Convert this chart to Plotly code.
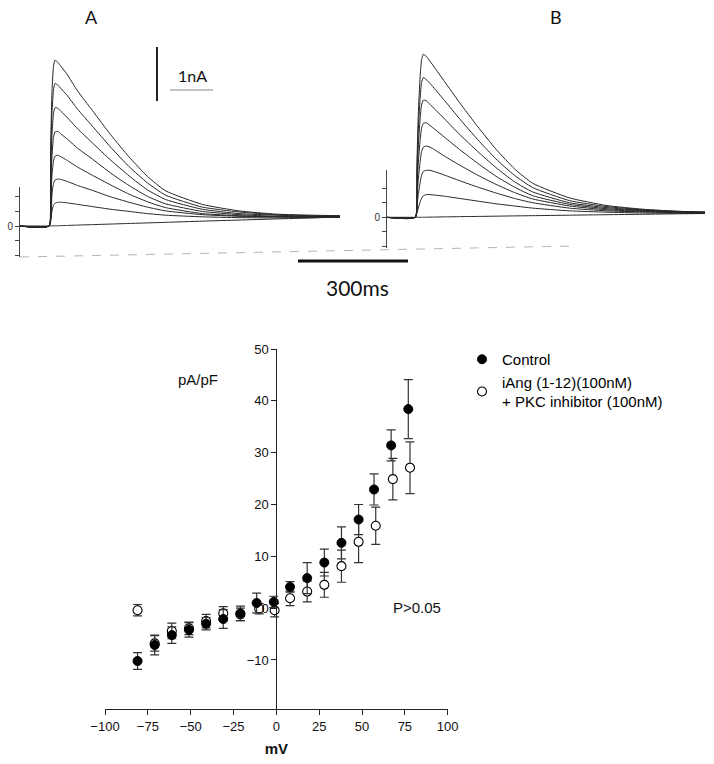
import plotly.graph_objects as go

W, H = 714, 764

# ---------------- data: current traces (time in ms, current in nA) ----------------
t_a = [0, 82, 86, 90, 94, 98, 106, 115, 130, 160, 200, 250, 300, 350, 400, 500, 600, 700, 800, 875]
a1 = [0, 0, 1.4, 2.5, 2.95, 3.07, 3.03, 2.95, 2.82, 2.50, 2.14, 1.69, 1.28, 0.92, 0.65, 0.40, 0.28, 0.22, 0.20, 0.19]
a2 = [0, 0, 1.1, 2.1, 2.52, 2.64, 2.61, 2.54, 2.43, 2.16, 1.85, 1.46, 1.10, 0.80, 0.57, 0.35, 0.26, 0.21, 0.19, 0.19]
a3 = [0, 0, 0.85, 1.7, 2.08, 2.19, 2.18, 2.12, 2.02, 1.80, 1.54, 1.22, 0.93, 0.67, 0.49, 0.31, 0.23, 0.20, 0.18, 0.18]
a4 = [0, 0, 0.65, 1.3, 1.64, 1.74, 1.75, 1.70, 1.62, 1.44, 1.24, 0.98, 0.75, 0.55, 0.41, 0.27, 0.21, 0.18, 0.17, 0.175]
a5 = [0, 0, 0.45, 0.95, 1.2, 1.29, 1.31, 1.28, 1.22, 1.09, 0.94, 0.76, 0.59, 0.45, 0.34, 0.23, 0.19, 0.17, 0.17, 0.17]
a6 = [0, 0, 0.28, 0.6, 0.78, 0.85, 0.87, 0.86, 0.83, 0.75, 0.66, 0.54, 0.44, 0.35, 0.28, 0.21, 0.18, 0.17, 0.165, 0.165]
a7 = [0, 0, 0.12, 0.28, 0.38, 0.42, 0.44, 0.44, 0.43, 0.40, 0.36, 0.31, 0.27, 0.23, 0.20, 0.17, 0.155, 0.15, 0.155, 0.16]
a8 = [0, 0, 0.001, 0.002, 0.003, 0.003, 0.005, 0.007, 0.01, 0.017, 0.025, 0.036, 0.047, 0.057, 0.068, 0.09, 0.11, 0.13, 0.15, 0.17]

t_b = [0, 80, 84, 88, 93, 97, 102, 110, 120, 135, 160, 200, 250, 300, 350, 400, 500, 600, 700, 800, 870]
b1 = [0, 0, 0.9, 1.9, 2.6, 2.92, 3.02, 2.98, 2.89, 2.75, 2.51, 2.13, 1.68, 1.26, 0.90, 0.63, 0.36, 0.22, 0.15, 0.11, 0.10]
b2 = [0, 0, 0.75, 1.6, 2.2, 2.5, 2.59, 2.55, 2.48, 2.36, 2.16, 1.83, 1.44, 1.08, 0.78, 0.55, 0.31, 0.20, 0.14, 0.11, 0.095]
b3 = [0, 0, 0.6, 1.3, 1.82, 2.08, 2.17, 2.16, 2.09, 1.99, 1.82, 1.54, 1.22, 0.92, 0.66, 0.47, 0.27, 0.18, 0.13, 0.10, 0.09]
b4 = [0, 0, 0.45, 1.0, 1.42, 1.65, 1.74, 1.75, 1.70, 1.62, 1.48, 1.26, 1.00, 0.76, 0.56, 0.40, 0.24, 0.16, 0.12, 0.095, 0.085]
b5 = [0, 0, 0.3, 0.7, 1.02, 1.22, 1.30, 1.32, 1.30, 1.24, 1.13, 0.97, 0.78, 0.61, 0.46, 0.34, 0.21, 0.14, 0.11, 0.09, 0.08]
b6 = [0, 0, 0.18, 0.42, 0.64, 0.78, 0.85, 0.87, 0.87, 0.84, 0.78, 0.68, 0.56, 0.45, 0.35, 0.27, 0.17, 0.12, 0.10, 0.085, 0.08]
b7 = [0, 0, 0.07, 0.17, 0.28, 0.35, 0.40, 0.42, 0.42, 0.41, 0.39, 0.35, 0.30, 0.25, 0.21, 0.17, 0.12, 0.095, 0.08, 0.075, 0.075]
b8 = [0, 0, 0, 0, 0, 0, 0.001, 0.002, 0.003, 0.005, 0.008, 0.012, 0.016, 0.021, 0.026, 0.03, 0.039, 0.048, 0.056, 0.065, 0.07]

small_tick_vals = [-0.54, -0.27, 0, 0.27, 0.54]
small_tick_text = ["", "", "0", "", ""]

scale_nA = 1.0      # vertical scale bar
scale_ms = 300      # horizontal scale bar

# ---------------- data: I-V relationship ----------------
v_control = [-81, -71, -61, -51, -41, -31, -21, -11.5, -1.5, 8, 18, 28, 38, 48, 57, 67, 77]
i_control = [-10.2, -7.1, -5.2, -4.2, -3.0, -2.1, -1.0, 1.0, 1.2, 4.1, 5.8, 8.8, 12.6, 17.1, 22.9, 31.4, 38.4]
e_control = [1.6, 1.9, 1.6, 1.4, 1.2, 1.8, 1.4, 1.9, 1.1, 1.0, 3.0, 2.6, 3.1, 2.9, 3.0, 3.0, 5.7]

v_pkc = [-81, -71, -61, -51, -41, -31, -21, -10, -1, 8, 18, 28, 38, 48, 58, 68, 78]
i_pkc = [-0.4, -6.8, -4.4, -3.9, -2.5, -1.0, -1.2, -0.1, -0.4, 1.9, 3.2, 4.5, 8.1, 12.8, 15.9, 24.9, 27.1]
e_pkc = [1.1, 1.5, 1.5, 1.2, 1.3, 1.3, 1.2, 1.0, 1.3, 1.4, 2.0, 2.4, 3.1, 4.0, 3.6, 4.0, 5.0]

iv_xticks = [-100, -75, -50, -25, 0, 25, 50, 75, 100]
iv_yticks = [-10, 0, 10, 20, 30, 40, 50]

# ---------------- layout geometry (pixels) ----------------
def px(p):
    return p / W

def py(p):
    return 1 - p / H

MS_PER_PX = 300 / 110
PX_PER_NA = 54.0

# panel A
A_x0, A_x1 = 19, 420
A_top, A_bot, A_zero = 40, 270, 226
# panel B
B_x0, B_x1 = 386, 712
B_top, B_bot, B_zero = 40, 262, 217.3
# IV
IV_x0, IV_x1 = 105, 447.7
IV_top, IV_bot = 349, 709
IV_ymax = 50
IV_ymin = IV_ymax - (IV_bot - IV_top) / 5.183

trace_color = "#262626"
fig = go.Figure()

for ys in [a8, a7, a6, a5, a4, a3, a2, a1]:
    fig.add_trace(go.Scatter(x=t_a, y=ys, mode="lines", xaxis="x", yaxis="y",
                             line=dict(color=trace_color, width=1, shape="spline", smoothing=0.5),
                             showlegend=False, hoverinfo="skip"))
for ys in [b8, b7, b6, b5, b4, b3, b2, b1]:
    fig.add_trace(go.Scatter(x=t_b, y=ys, mode="lines", xaxis="x2", yaxis="y2",
                             line=dict(color=trace_color, width=1, shape="spline", smoothing=0.5),
                             showlegend=False, hoverinfo="skip"))

# dummy traces so the small amplitude axes are drawn
fig.add_trace(go.Scatter(x=[None], y=[None], xaxis="x", yaxis="y4", showlegend=False))
fig.add_trace(go.Scatter(x=[None], y=[None], xaxis="x2", yaxis="y5", showlegend=False))

err_style = dict(type="data", visible=True, color="#333333", thickness=1.2, width=4.5)
fig.add_trace(go.Scatter(
    x=v_pkc, y=i_pkc, mode="markers", xaxis="x3", yaxis="y3",
    name="iAng (1-12)(100nM)<br>+ PKC inhibitor (100nM)",
    marker=dict(symbol="circle", size=9, color="white", line=dict(color="black", width=1.1)),
    error_y=dict(array=e_pkc, **err_style), legendrank=2, legendgroup="p"))
fig.add_trace(go.Scatter(
    x=v_control, y=i_control, mode="markers", xaxis="x3", yaxis="y3",
    name="Control",
    marker=dict(symbol="circle", size=9, color="black", line=dict(color="black", width=1)),
    error_y=dict(array=e_control, **err_style), legendrank=1, legendgroup="c"))

hidden = dict(visible=False, showgrid=False, zeroline=False, fixedrange=True, automargin=False)

small_axis = dict(anchor="free", showline=True, linecolor="#444", linewidth=1,
                  ticks="outside", ticklen=4, tickcolor="#444", automargin=False,
                  tickvals=small_tick_vals, ticktext=small_tick_text,
                  tickfont=dict(family="Liberation Sans, Arial", size=10, color="#333"),
                  showgrid=False, zeroline=False)

fig.update_layout(
    width=W, height=H, margin=dict(l=0, r=0, t=0, b=0, autoexpand=False),
    paper_bgcolor="white", plot_bgcolor="rgba(0,0,0,0)",
    showlegend=True,
    legend=dict(x=px(462), y=py(343), xanchor="left", yanchor="top",
                font=dict(family="Liberation Sans, Arial", size=15, color="black"),
                bgcolor="rgba(0,0,0,0)", tracegroupgap=13, traceorder="normal"),
    xaxis=dict(domain=[px(A_x0), px(A_x1)], range=[0, (A_x1 - A_x0) * MS_PER_PX], anchor="y", **hidden),
    yaxis=dict(domain=[py(A_bot), py(A_top)],
               range=[-(A_bot - A_zero) / PX_PER_NA, (A_zero - A_top) / PX_PER_NA], anchor="x", **hidden),
    xaxis2=dict(domain=[px(B_x0), px(B_x1)], range=[0, (B_x1 - B_x0) * MS_PER_PX], anchor="y2", **hidden),
    yaxis2=dict(domain=[py(B_bot), py(B_top)],
                range=[-(B_bot - B_zero) / PX_PER_NA, (B_zero - B_top) / PX_PER_NA], anchor="x2", **hidden),
    yaxis4=dict(domain=[py(257), py(186.7)], position=px(A_x0),
                range=[-(257 - A_zero) / PX_PER_NA, (A_zero - 186.7) / PX_PER_NA], **small_axis),
    yaxis5=dict(domain=[py(248.3), py(170)], position=px(B_x0),
                range=[-(248.3 - B_zero) / PX_PER_NA, (B_zero - 170) / PX_PER_NA], **small_axis),
    xaxis3=dict(domain=[px(IV_x0), px(IV_x1)], range=[-100, 100], anchor="y3", automargin=False,
                showline=True, linecolor="#222", linewidth=1, ticks="outside", ticklen=5,
                tickcolor="#222", tickvals=iv_xticks, showgrid=False, zeroline=False,
                tickfont=dict(family="Liberation Sans, Arial", size=13, color="#111"),
                title=dict(text="<b>mV</b>", standoff=10,
                           font=dict(family="Liberation Sans, Arial", size=15, color="#111"))),
    yaxis3=dict(domain=[py(IV_bot), py(IV_top)], range=[IV_ymin, IV_ymax], anchor="free",
                position=px(IV_x0 + (IV_x1 - IV_x0) / 2), automargin=False,
                showline=True, linecolor="#222", linewidth=1, ticks="outside", ticklen=5,
                tickcolor="#222", tickvals=iv_yticks, showgrid=False, zeroline=False,
                tickfont=dict(family="Liberation Sans, Arial", size=13, color="#111")),
)

# scale bars (in panel A data units)
bar_t = (157 - A_x0) * MS_PER_PX
bar_top = (A_zero - 47) / PX_PER_NA
fig.add_shape(type="line", xref="x", yref="y", x0=bar_t, x1=bar_t,
              y0=bar_top - scale_nA, y1=bar_top, line=dict(color="#222", width=2))
fig.add_shape(type="line", xref="x", yref="y",
              x0=(170 - A_x0) * MS_PER_PX, x1=(213 - A_x0) * MS_PER_PX,
              y0=(A_zero - 90) / PX_PER_NA, y1=(A_zero - 90) / PX_PER_NA,
              line=dict(color="#888", width=1))
ms_start = (298 - A_x0) * MS_PER_PX
ms_y = (A_zero - 261) / PX_PER_NA
fig.add_shape(type="line", xref="x", yref="y", x0=ms_start, x1=ms_start + scale_ms,
              y0=ms_y, y1=ms_y, line=dict(color="#111", width=3))
# faint baseline artefact
fig.add_shape(type="line", xref="paper", yref="paper", x0=px(20), x1=px(573),
              y0=py(257), y1=py(246), line=dict(color="#b5b5b5", width=1, dash="dash"))

def ann(text, x, y, size, family="Lato", color="#111"):
    fig.add_annotation(text=text, x=px(x), y=py(y), xref="paper", yref="paper",
                       showarrow=False, xanchor="center", yanchor="middle",
                       font=dict(family=family, size=size, color=color))

ann("A", 92, 17, 18)
ann("B", 556, 17, 18)
ann("1nA", 192, 75, 16)
ann("300ms", 357, 287, 21)
ann("pA/pF", 198, 379, 15, family="Liberation Sans, Arial")
ann("P&gt;0.05", 417, 607, 15, family="Liberation Sans, Arial")

fig.write_html("out.html", config={"displayModeBar": False},
               post_script="document.body.style.margin='0px';")
